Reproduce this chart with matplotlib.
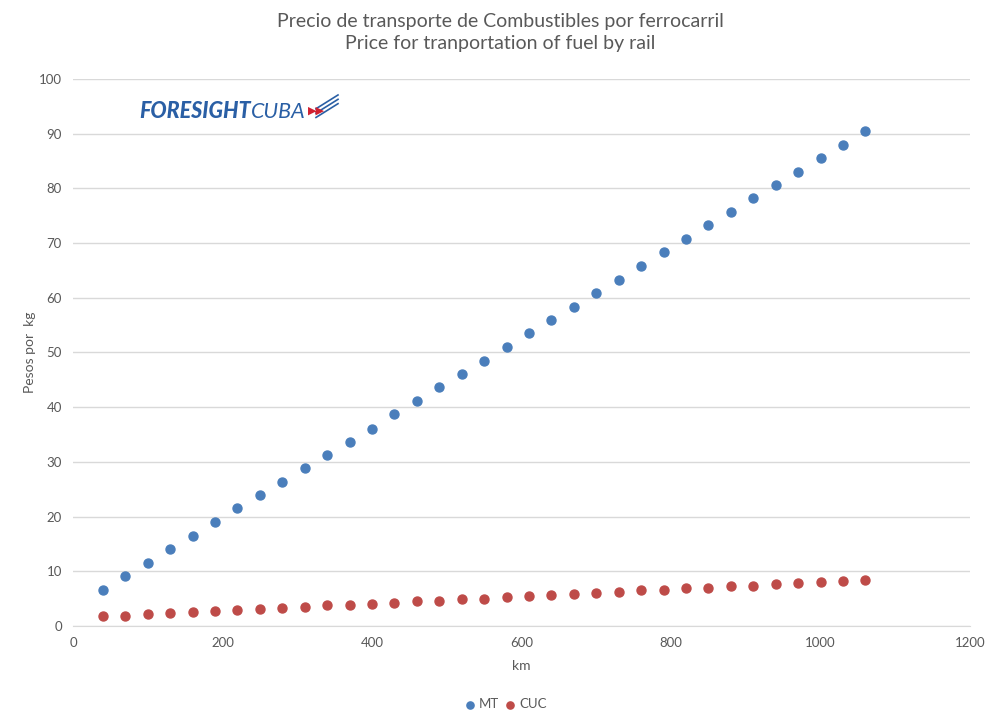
import numpy as np
import matplotlib.pyplot as plt

plt.rcParams['font.family'] = ['Lato', 'DejaVu Sans']

km = [40, 70, 100, 130, 160, 190, 220, 250, 280, 310, 340, 370, 400, 430, 460,
      490, 520, 550, 580, 610, 640, 670, 700, 730, 760, 790, 820, 850, 880, 910,
      940, 970, 1000, 1030, 1060]
mt = [6.6, 9.1, 11.5, 14.0, 16.4, 19.0, 21.5, 23.9, 26.4, 28.8, 31.2, 33.7,
      36.1, 38.7, 41.1, 43.6, 46.0, 48.5, 51.0, 53.5, 56.0, 58.4, 60.8, 63.3,
      65.8, 68.3, 70.7, 73.3, 75.7, 78.2, 80.6, 83.0, 85.5, 87.9, 90.5]
cuc = [1.8, 1.9, 2.2, 2.35, 2.6, 2.7, 3.0, 3.1, 3.3, 3.45, 3.75, 3.9, 4.1,
       4.25, 4.5, 4.6, 4.9, 5.0, 5.3, 5.4, 5.7, 5.85, 6.1, 6.2, 6.5, 6.6, 6.85,
       7.0, 7.3, 7.35, 7.65, 7.8, 8.1, 8.2, 8.45]

grey = '#595959'
fig = plt.figure(figsize=(10, 7.25), dpi=100)
ax = fig.add_axes([0.073, 0.1366, 0.897, 0.7544])

ax.scatter(km, mt, s=42, color='#4A7EBB', label='MT', zorder=3)
ax.scatter(km, cuc, s=42, color='#BE4B48', label='CUC', zorder=3)

ax.set_xlim(0, 1200)
ax.set_ylim(0, 100)
ax.set_xticks(range(0, 1201, 200))
ax.set_yticks(range(0, 101, 10))
ax.grid(axis='y', color='#D9D9D9', linewidth=1)
ax.set_axisbelow(True)
for s in ['top', 'right', 'left']:
    ax.spines[s].set_visible(False)
ax.spines['bottom'].set_color('#D9D9D9')
ax.tick_params(length=0, colors=grey, labelsize=9.5, pad=8)

ax.set_xlabel('km', color=grey, fontsize=10, labelpad=8)
ax.set_ylabel('Pesos por  kg', color=grey, fontsize=10, labelpad=2)

fig.text(0.5, 0.982, 'Precio de transporte de Combustibles por ferrocarril\nPrice for tranportation of fuel by rail',
         ha='center', va='top', fontsize=14, color=grey, linespacing=1.35)

leg = ax.legend(loc='upper center', bbox_to_anchor=(0.478, -0.11), ncol=2,
                frameon=False, fontsize=9.5, handletextpad=-0.3, columnspacing=-0.2,
                markerscale=0.8)
for t in leg.get_texts():
    t.set_color(grey)

# logo
blue = '#2A5FA5'
fig.text(0.139, 0.846, 'FORESIGHT', fontsize=15.5, fontweight='black', fontstyle='italic',
         color=blue, va='center')
fig.text(0.2505, 0.846, 'CUBA', fontsize=15.5, fontstyle='italic', color=blue, va='center')
fig.text(0.308, 0.848, '\u25B6\u25B6', fontsize=8, color='#D02030', va='center')
for dy in [0.0, 0.006, 0.012]:
    fig.add_artist(plt.Line2D([0.316, 0.338], [0.838 + dy, 0.857 + dy], color=blue,
                              linewidth=1.2, transform=fig.transFigure))

fig.savefig('out.png')
